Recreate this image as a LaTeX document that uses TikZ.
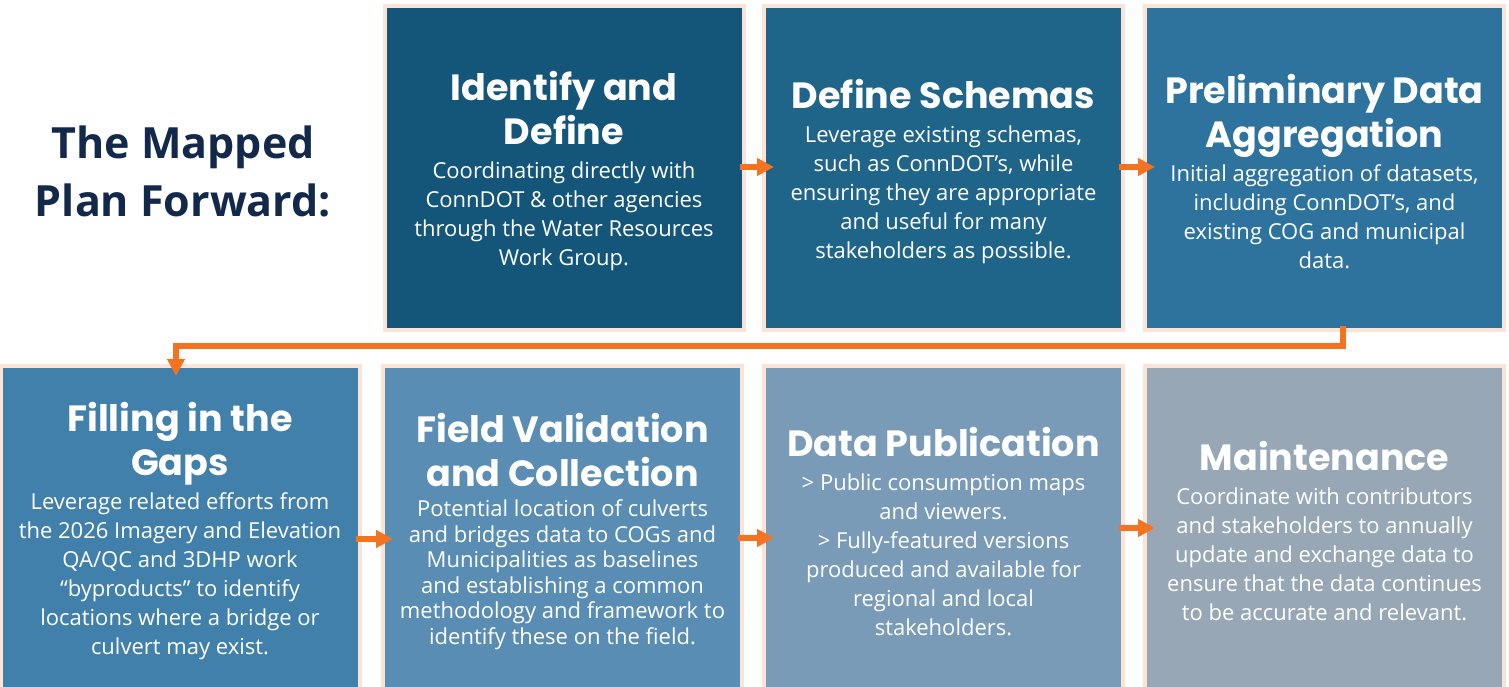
\documentclass[tikz,border=0pt]{standalone}
\usepackage{fontspec}
\setmainfont{Open Sans}
\newfontfamily\headfont{Poppins}
\usetikzlibrary{arrows.meta,positioning}
\definecolor{navy}{HTML}{13294B}
\definecolor{peach}{HTML}{FBE3D6}
\definecolor{flowor}{HTML}{F37321}
\definecolor{stageA}{HTML}{14567A}
\definecolor{stageB}{HTML}{1F6489}
\definecolor{stageC}{HTML}{2E739E}
\definecolor{stageD}{HTML}{4180AB}
\definecolor{stageE}{HTML}{5A8DB4}
\definecolor{stageF}{HTML}{7A9BB7}
\definecolor{stageG}{HTML}{97A7B5}
\newcommand\stagehead[1]{\vskip-8pt{\headfont\bfseries\fontsize{36.5}{44}\selectfont
  \spaceskip=\fontdimen2\font\xspaceskip=\fontdimen2\font #1\par}\vspace{5pt}}
\newcommand\stagebody[2][29]{{\fontsize{22}{#1}\selectfont
  \spaceskip=\fontdimen2\font\xspaceskip=\fontdimen2\font #2\par}}

\begin{document}
\begin{tikzpicture}[x=1pt,y=-1pt,
    stage/.style={minimum width=359pt,minimum height=324pt,inner sep=0pt,outer sep=0pt,
      draw=peach,line width=4pt,text=white,text width=352pt,align=center},
    flow/.style={draw=flowor,line width=6pt,shorten <=-4pt,shorten >=-10pt,
      -{Triangle[width=17pt,length=17pt]}}]
    \useasboundingbox (0,0) rectangle (1509,687);
    \clip (0,0) rectangle (1509,687);
    % title
    \node[text=navy,font=\bfseries\fontsize{43}{58}\selectfont,align=center] (title) at (183,171)
      {The Mapped\\Plan Forward:};
    % top row
    \node[stage,fill=stageA] (identify) at (564,168)
      {\stagehead{Identify and\\Define}
       \stagebody{Coordinating directly with\\ConnDOT \& other agencies\\through the Water Resources\\Work Group.}};
    \node[stage,fill=stageB] (schemas) at (943.5,168)
      {\stagehead{Define Schemas}
       \stagebody{Leverage existing schemas,\\such as ConnDOT’s, while\\ensuring they are appropriate\\and useful for many\\stakeholders as possible.}};
    \node[stage,fill=stageC] (prelim) at (1324.5,168)
      {\stagehead{Preliminary Data\\Aggregation}
       \stagebody{Initial aggregation of datasets,\\including ConnDOT’s, and\\existing COG and municipal\\data.}};
    % bottom row
    \node[stage,fill=stageD] (gaps) at (180,528)
      {\stagehead{Filling in the\\Gaps}
       \stagebody{Leverage related efforts from\\the 2026 Imagery and Elevation\\QA/QC and 3DHP work\\“byproducts” to identify\\locations where a bridge or\\culvert may exist.}};
    \node[stage,fill=stageE] (fieldval) at (562.5,528)
      {\stagehead{Field Validation\\and Collection}
       \stagebody[25.5]{Potential location of culverts\\and bridges data to COGs and\\Municipalities as baselines\\and establishing a common\\methodology and framework to\\identify these on the field.}};
    \node[stage,fill=stageF] (publish) at (943.5,528)
      {\stagehead{Data Publication}
       \stagebody{> Public consumption maps\\and viewers.\\> Fully-featured versions\\produced and available for\\regional and local\\stakeholders.}};
    \node[stage,fill=stageG] (maint) at (1324.5,528)
      {\stagehead{Maintenance}
       \stagebody{Coordinate with contributors\\and stakeholders to annually\\update and exchange data to\\ensure that the data continues\\to be accurate and relevant.}};
    % arrows
    \draw[flow] (identify.east |- 0,167) -- (schemas.west |- 0,167);
    \draw[flow] (schemas.east |- 0,167) -- (prelim.west |- 0,167);
    \draw[flow,line width=5.5pt] ([xshift=18.5pt]prelim.south) -- ++(0,16) -| ([xshift=-4pt]gaps.north);
    \draw[flow] (gaps.east |- 0,539) -- (fieldval.west |- 0,539);
    \draw[flow] (fieldval.east |- 0,538) -- (publish.west |- 0,538);
    \draw[flow] (publish.east |- 0,528) -- (maint.west |- 0,528);
\end{tikzpicture}
\end{document}
